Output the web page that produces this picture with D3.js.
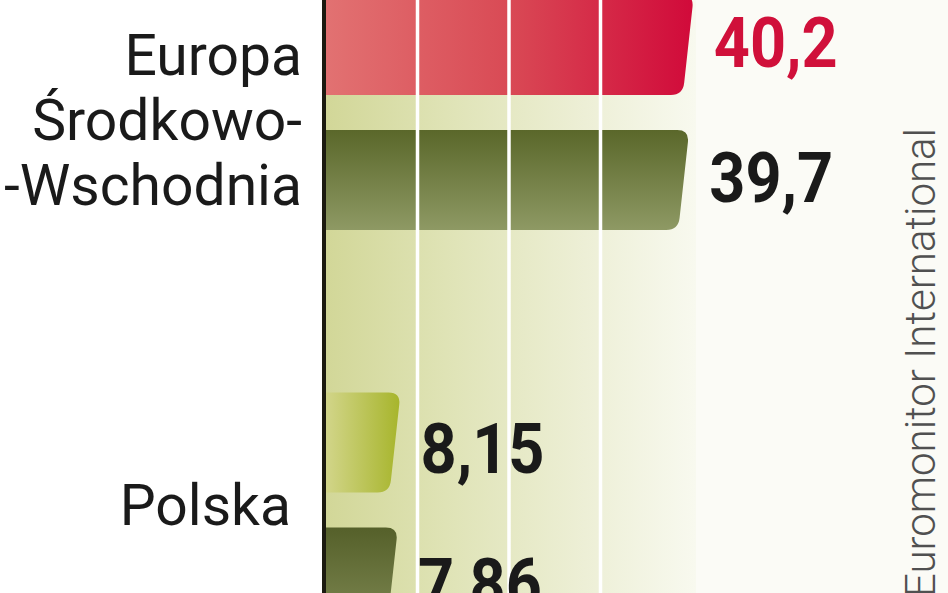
<!DOCTYPE html>
<html><head><meta charset="utf-8">
<script src="https://cdn.jsdelivr.net/npm/d3@7"></script>
<style>html,body{margin:0;padding:0;background:#fff;}svg{display:block;}</style>
</head><body>
<svg id="c" width="948" height="593"></svg>
<script>
// ---- data ----
const groups = ["Europa Środkowo-Wschodnia", "Polska"];
const groupLabelLines = [["Europa", "Środkowo-", "-Wschodnia"], ["Polska"]];
const seriesKeys = ["a", "b"];
const seriesA = [40.2, 8.15];
const seriesB = [39.7, 7.86];
const valueLabelsA = ["40,2", "8,15"];
const valueLabelsB = ["39,7", "7,86"];
const gridTicks = [10, 20, 30];
const sourceText = "Euromonitor International";

const svg = d3.select("#c");
const W = 948, H = 593;

const x = d3.scaleLinear().domain([0, 40]).range([326, 692]);
const y0 = d3.scaleBand().domain(groups).range([-86, 709]);
const y1 = d3.scaleBand().domain(seriesKeys).range([81, 316]).paddingInner(35 / 135).paddingOuter(0);

const defs = svg.append("defs");
function lg(id, x1, y1_, x2, y2, stops) {
  const g = defs.append("linearGradient").attr("id", id)
    .attr("x1", x1).attr("y1", y1_).attr("x2", x2).attr("y2", y2);
  stops.forEach(s => g.append("stop").attr("offset", s[0]).attr("stop-color", s[1]));
}
lg("bg", "0", "0", "1", "0", [[0, "#d2d798"], [0.35, "#e0e4b8"], [0.7, "#edefd6"], [1, "#f8f9ef"]]);
lg("red", "0", "0", "1", "0", [[0, "#e27272"], [0.5, "#d94a55"], [1, "#d10a3a"]]);
lg("oliveA", "0", "0", "0", "1", [[0, "#5a672a"], [1, "#8e9964"]]);
lg("lime", "0", "0", "1", "0", [[0, "#d3d68c"], [1, "#a7b52c"]]);
lg("oliveB", "0", "0", "0", "1", [[0, "#55602a"], [1, "#7e8852"]]);

// page and plot background
svg.append("rect").attr("width", W).attr("height", H).attr("fill", "#ffffff");
svg.append("rect").attr("x", x(40)).attr("y", 0).attr("width", W - x(40)).attr("height", H).attr("fill", "#fbfbf6");
svg.append("rect").attr("x", x(0)).attr("y", 0).attr("width", x(40) - x(0) + 4).attr("height", H).attr("fill", "url(#bg)");

// bars
const fills = [["url(#red)", "url(#oliveA)"], ["url(#lime)", "url(#oliveB)"]];
const slant = 11, r = 12;
function barPath(v, top, h) {
  const x0 = x(0) - 2, xr = x(v), bot = top + h;
  const k = slant / h;
  return `M${x0},${top} H${xr - r} Q${xr},${top} ${xr - k * r},${top + r}` +
    ` L${xr - slant + k * r},${bot - r} Q${xr - slant},${bot} ${xr - slant - r},${bot} H${x0} Z`;
}
const rows = [];
groups.forEach((g, i) => {
  rows.push({ g, i, s: "a", v: seriesA[i], label: valueLabelsA[i], fill: fills[i][0], color: i === 0 ? "#d0103a" : "#1a1a1a" });
  rows.push({ g, i, s: "b", v: seriesB[i], label: valueLabelsB[i], fill: fills[i][1], color: "#1a1a1a" });
});
svg.selectAll("path.bar").data(rows).join("path").attr("class", "bar")
  .attr("d", d => barPath(d.v, y0(d.g) + y1(d.s), y1.bandwidth()))
  .attr("fill", d => d.fill);

// gridlines over bars
svg.selectAll("line.grid").data(gridTicks).join("line").attr("class", "grid")
  .attr("x1", d => x(d)).attr("x2", d => x(d)).attr("y1", 0).attr("y2", H)
  .attr("stroke", "#ffffff").attr("stroke-width", 3.5);

// axis
svg.append("line").attr("x1", x(0) - 2).attr("x2", x(0) - 2).attr("y1", 0).attr("y2", H)
  .attr("stroke", "#1b1a10").attr("stroke-width", 4);

// value labels
svg.selectAll("text.val").data(rows).join("text").attr("class", "val")
  .attr("transform", d => `translate(${x(d.v) + 20},${y0(d.g) + y1(d.s) + y1.bandwidth() / 2 + (d.i === 0 ? 22 : 30)}) scale(0.9,1)`)
  .attr("font-family", "Roboto, sans-serif").attr("font-weight", 700).attr("font-size", 70)
  .attr("fill", d => d.color).text(d => d.label);

// group labels
const lineH = 65;
groups.forEach((g, i) => {
  const lines = groupLabelLines[i];
  const c = y0(g) + y0.bandwidth() / 2;
  const first = c - (lines.length - 1) * lineH / 2 + (i === 0 ? 27 : 15);
  const t = svg.append("text").attr("text-anchor", "end")
    .attr("font-family", "Roboto, sans-serif").attr("font-size", 57).attr("fill", "#1a1a1a");
  lines.forEach((ln, j) => {
    t.append("tspan").attr("x", i === 0 ? 302 : 291).attr("y", first + j * lineH).text(ln);
  });
});

// source
svg.append("text").attr("transform", "translate(935,128) rotate(-90)")
  .attr("text-anchor", "end").attr("font-family", "Roboto, sans-serif").attr("font-weight", 300)
  .attr("font-size", 42).attr("fill", "#505050").text(sourceText);
</script>
</body></html>
